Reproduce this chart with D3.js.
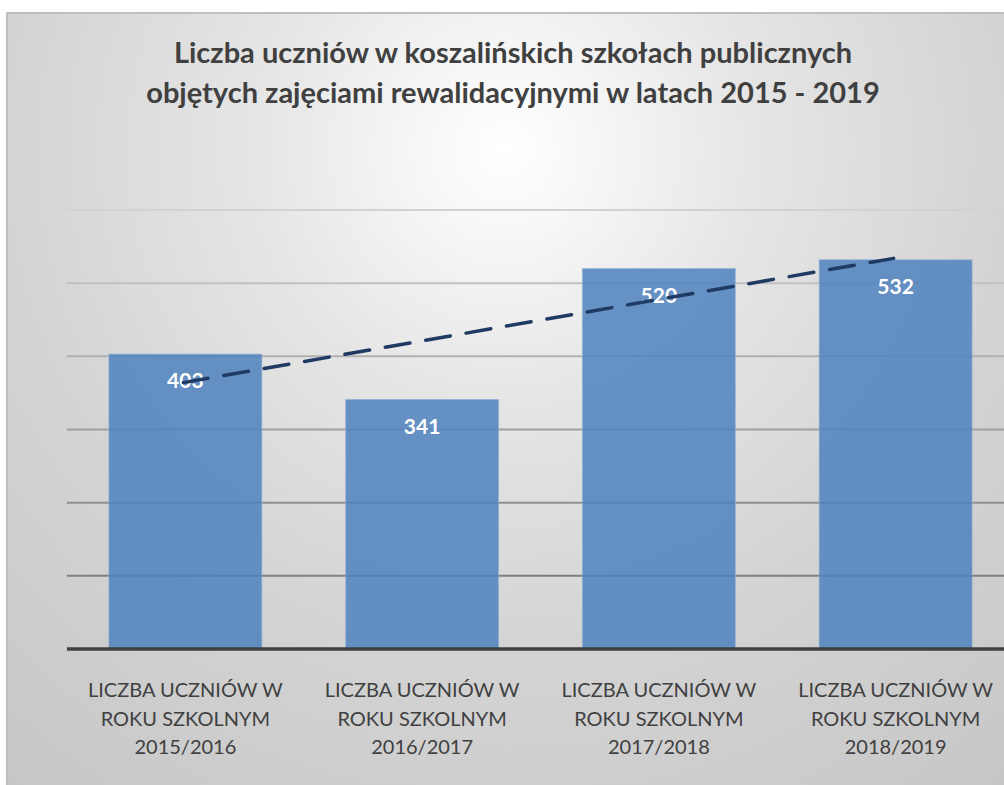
<!DOCTYPE html>
<html>
<head>
<meta charset="utf-8">
<script src="https://cdn.jsdelivr.net/npm/d3@7"></script>
<style>
  body { margin: 0; background: #fff; }
  svg { display: block; }
</style>
</head>
<body>
<svg id="chart" width="1004" height="785"></svg>
<script>
// data
var categories = ["2015/2016", "2016/2017", "2017/2018", "2018/2019"];
var values = [403, 341, 520, 532];
var yTicks = [0, 100, 200, 300, 400, 500, 600];
var titleLines = [
  "Liczba uczniów w koszalińskich szkołach publicznych",
  "objętych zajęciami rewalidacyjnymi w latach 2015 - 2019"
];

var W = 1004, H = 785;
var plot = {left: 67, right: 1014, top: 210, bottom: 649};

var svg = d3.select("#chart");
var defs = svg.append("defs");

// background gradient
var bg = defs.append("radialGradient")
    .attr("id", "bg")
    .attr("gradientUnits", "userSpaceOnUse")
    .attr("cx", 505).attr("cy", 150).attr("r", 800);
[[0, "#ffffff"], [0.08, "#f9f9f9"], [0.32, "#e5e5e5"], [0.62, "#d4d4d4"], [1, "#c7c7c7"]]
  .forEach(function(s) { bg.append("stop").attr("offset", s[0]).attr("stop-color", s[1]); });

svg.append("rect")
    .attr("x", 7).attr("y", 13)
    .attr("width", W).attr("height", H)
    .attr("fill", "url(#bg)")
    .attr("stroke", "#bfbfbf")
    .attr("stroke-width", 2);

// scales
var x = d3.scaleBand()
    .domain(categories)
    .range([plot.left, plot.right])
    .paddingInner(0.354)
    .paddingOuter(0.177);

var y = d3.scaleLinear()
    .domain([0, 600])
    .range([plot.bottom, plot.top]);

var gridColor = d3.scaleLinear()
    .domain([600, 100])
    .range(["#d2d2d2", "#7f7f7f"]);

// gridlines
svg.append("g")
  .selectAll("line")
  .data(yTicks.filter(function(d) { return d > 0; }))
  .enter().append("line")
    .attr("x1", plot.left).attr("x2", W)
    .attr("y1", function(d) { return y(d); })
    .attr("y2", function(d) { return y(d); })
    .attr("stroke", function(d) { return gridColor(d); })
    .attr("stroke-width", 2);

// bars
svg.append("g")
  .selectAll("rect")
  .data(values)
  .enter().append("rect")
    .attr("x", function(d, i) { return x(categories[i]); })
    .attr("y", function(d) { return y(d); })
    .attr("width", x.bandwidth())
    .attr("height", function(d) { return y(0) - y(d); })
    .attr("fill", "#4f81bd")
    .attr("fill-opacity", 0.85)
    .attr("stroke", "#8fb0d8")
    .attr("stroke-opacity", 0.6)
    .attr("stroke-width", 1);

// baseline
svg.append("line")
    .attr("x1", plot.left).attr("x2", W)
    .attr("y1", y(0)).attr("y2", y(0))
    .attr("stroke", "#404040")
    .attr("stroke-width", 3.5);

// value labels
svg.append("g")
  .selectAll("text")
  .data(values)
  .enter().append("text")
    .attr("x", function(d, i) { return x(categories[i]) + x.bandwidth() / 2; })
    .attr("y", function(d) { return y(d) + 34; })
    .attr("text-anchor", "middle")
    .attr("font-family", "Lato, 'Open Sans', sans-serif")
    .attr("font-weight", "bold")
    .attr("font-size", 21)
    .attr("fill", "#ffffff")
    .text(function(d) { return d; });

// linear trend (least squares)
var n = values.length;
var mx = d3.mean(values, function(d, i) { return i + 1; });
var my = d3.mean(values);
var sxy = d3.sum(values, function(d, i) { return (i + 1 - mx) * (d - my); });
var sxx = d3.sum(values, function(d, i) { return (i + 1 - mx) * (i + 1 - mx); });
var slope = sxy / sxx, icpt = my - slope * mx;
var trend = [1, n].map(function(k) { return [categories[k - 1], icpt + slope * k]; });

svg.append("path")
    .datum(trend)
    .attr("d", d3.line()
      .x(function(d) { return x(d[0]) + x.bandwidth() / 2 - 2; })
      .y(function(d) { return y(d[1]); }))
    .attr("fill", "none")
    .attr("stroke", "#1f3b63")
    .attr("stroke-width", 3.5)
    .attr("stroke-linecap", "round")
    .attr("stroke-dasharray", "25,16");

// category labels
var catG = svg.append("g")
  .selectAll("text")
  .data(categories)
  .enter().append("text")
    .attr("text-anchor", "middle")
    .attr("font-family", "Lato, 'Open Sans', sans-serif")
    .attr("font-size", 20)
    .attr("fill", "#404040");

catG.each(function(d) {
  var t = d3.select(this);
  var cx = x(d) + x.bandwidth() / 2;
  ["LICZBA UCZNIÓW W", "ROKU SZKOLNYM", d].forEach(function(s, i) {
    t.append("tspan").attr("x", cx).attr("y", 697 + i * 28.5).text(s);
  });
});

// title
svg.append("g")
  .selectAll("text")
  .data(titleLines)
  .enter().append("text")
    .attr("x", 513)
    .attr("y", function(d, i) { return 63 + i * 40; })
    .attr("text-anchor", "middle")
    .attr("font-family", "Lato, 'Open Sans', sans-serif")
    .attr("font-weight", "bold")
    .attr("font-size", 29)
    .attr("fill", "#404040")
    .text(function(d) { return d; });
</script>
</body>
</html>
